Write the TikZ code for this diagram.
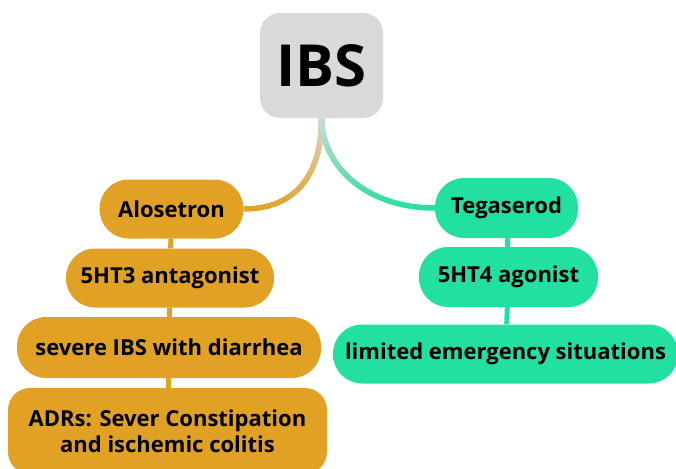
\documentclass[tikz,border=0pt]{standalone}
\usepackage{fontspec}
\setmainfont{Open Sans}
\usetikzlibrary{positioning, backgrounds, fadings}
\definecolor{ibsgray}{HTML}{D9D9D9}
\definecolor{ibsorange}{HTML}{E1A124}
\definecolor{ibsgreen}{HTML}{22E0A1}
\tikzfading[name=fade down, top color=transparent!0, bottom color=transparent!100]
\tikzset{
    topic/.style = {fill=ibsgray, rounded corners=20pt, minimum width=123pt,
        minimum height=105pt, font=\fontsize{58}{62}\selectfont\bfseries},
    drug/.style = {rounded corners=29pt, minimum height=59pt, inner sep=0pt,
        align=center, font=\fontsize{22}{26}\selectfont\bfseries},
    left drug/.style = {drug, fill=ibsorange},
    right drug/.style = {drug, fill=ibsgreen},
    branch/.style = {line width=5.5pt},
    stub/.style = {line width=5pt}
}

\begin{document}
\begin{tikzpicture}[x=1pt, y=-1pt]
    \useasboundingbox (0,0) rectangle (676,468);
    \clip (0,0) rectangle (676,468);

    \node[topic] (ibs) at (321.5, 65.5) {IBS};

    % left side
    \node[left drug, minimum width=144pt] (alo) at (171.5, 209) {Alosetron};
    \node[left drug, minimum width=208pt] (ht3) at (170, 278) {5HT3 antagonist};
    \node[left drug, minimum width=304pt, minimum height=61pt] (sev) at (169, 347.5) {severe IBS with diarrhea};
    \node[left drug, minimum width=319pt, minimum height=86pt, rounded corners=22pt] (adr) at (167.5, 431) {ADRs: Sever Constipation\\and ischemic colitis};

    % right side
    \node[right drug, minimum width=143pt, minimum height=60pt] (teg) at (506.5, 208) {Tegaserod};
    \node[right drug, minimum width=179pt, minimum height=60pt] (ht4) at (508.5, 277) {5HT4 agonist};
    \node[right drug, minimum width=345pt] (lim) at (505.5, 354) {limited emergency situations};

    \begin{scope}[on background layer]
        \draw[branch, ibsorange] (ibs.south) .. controls (322, 175) and (295, 209) .. (alo.east);
        \draw[branch, ibsgray, path fading=fade down] (ibs.south) .. controls (322, 175) and (295, 209) .. (alo.east);
        \draw[branch, ibsgreen] (ibs.south) .. controls (322, 165) and (365, 208) .. (teg.west);
        \draw[branch, ibsgray, path fading=fade down] (ibs.south) .. controls (322, 165) and (365, 208) .. (teg.west);

        \draw[stub, ibsorange] (alo) -- (ht3);
        \draw[stub, ibsorange] (ht3) -- (sev);
        \draw[stub, ibsorange] (sev) -- (adr);
        \draw[stub, ibsgreen] (teg) -- (ht4);
        \draw[stub, ibsgreen] (ht4) -- (lim);
    \end{scope}
\end{tikzpicture}
\end{document}
